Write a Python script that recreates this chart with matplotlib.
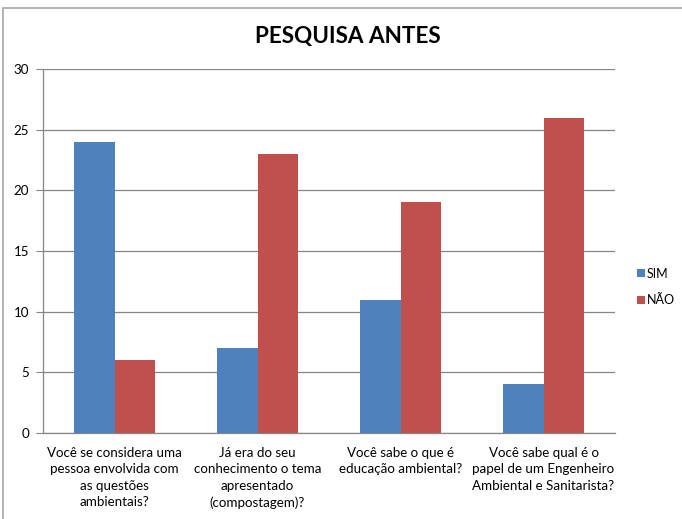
import matplotlib
matplotlib.use("Agg")
import matplotlib.pyplot as plt
import numpy as np
from matplotlib.patches import Rectangle

categories = [
    "Você se considera uma\npessoa envolvida com\nas questões\nambientais?",
    "Já era do seu\nconhecimento o tema\napresentado\n(compostagem)?",
    "Você sabe o que é\neducação ambiental?",
    "Você sabe qual é o\npapel de um Engenheiro\nAmbiental e Sanitarista?",
]
sim = [24, 7, 11, 4]
nao = [6, 23, 19, 26]
series_names = ["SIM", "NÃO"]
colors = ["#4F81BD", "#C0504D"]
yticks = [0, 5, 10, 15, 20, 25, 30]

plt.rcParams["font.family"] = ["Lato", "DejaVu Sans"]

fig = plt.figure(figsize=(6.82, 5.19), dpi=100)
fig.patch.set_facecolor("white")

# outer chart frame
fig.patches.append(Rectangle((3 / 682, -0.05), 1.2, (519 - 8) / 519 + 0.05,
                             transform=fig.transFigure, fill=False,
                             edgecolor="#A6A6A6", linewidth=1.2))

ax = fig.add_axes([43 / 682, (519 - 433) / 519, (615 - 43) / 682, (433 - 69) / 519])

x = np.arange(len(categories))
w = 0.283
ax.bar(x - w / 2, sim, width=w, color=colors[0], label=series_names[0], zorder=3)
ax.bar(x + w / 2, nao, width=w, color=colors[1], label=series_names[1], zorder=3)

ax.set_xlim(-0.5, len(categories) - 0.5)
ax.set_ylim(0, 30)
ax.set_yticks(yticks)
ax.set_yticklabels([str(v) for v in yticks], fontsize=9.6)
ax.set_xticks(x)
ax.set_xticklabels(categories, fontsize=9.6, linespacing=1.45)
ax.tick_params(axis="x", length=0, pad=10)
ax.tick_params(axis="y", length=5, color="#868686", pad=5)
for lab in ax.get_yticklabels():
    lab.set_horizontalalignment("right")

ax.yaxis.grid(True, color="#868686", linewidth=0.9, zorder=0)
for s in ["top", "right"]:
    ax.spines[s].set_visible(False)
ax.spines["left"].set_color("#868686")
ax.spines["bottom"].set_color("#868686")
ax.spines["left"].set_linewidth(0.9)
ax.spines["bottom"].set_linewidth(0.9)

fig.text(348 / 682, 1 - 37 / 519, "PESQUISA ANTES", ha="center", va="center",
         fontsize=16.2, fontweight="bold")

ax.legend(loc="center left", bbox_to_anchor=(626 / 682, 1 - 287 / 519),
          bbox_transform=fig.transFigure, frameon=False, fontsize=9,
          handlelength=0.6, handleheight=0.6, handletextpad=0.15,
          labelspacing=1.2)

fig.savefig("out.png", dpi=100, facecolor="white")
